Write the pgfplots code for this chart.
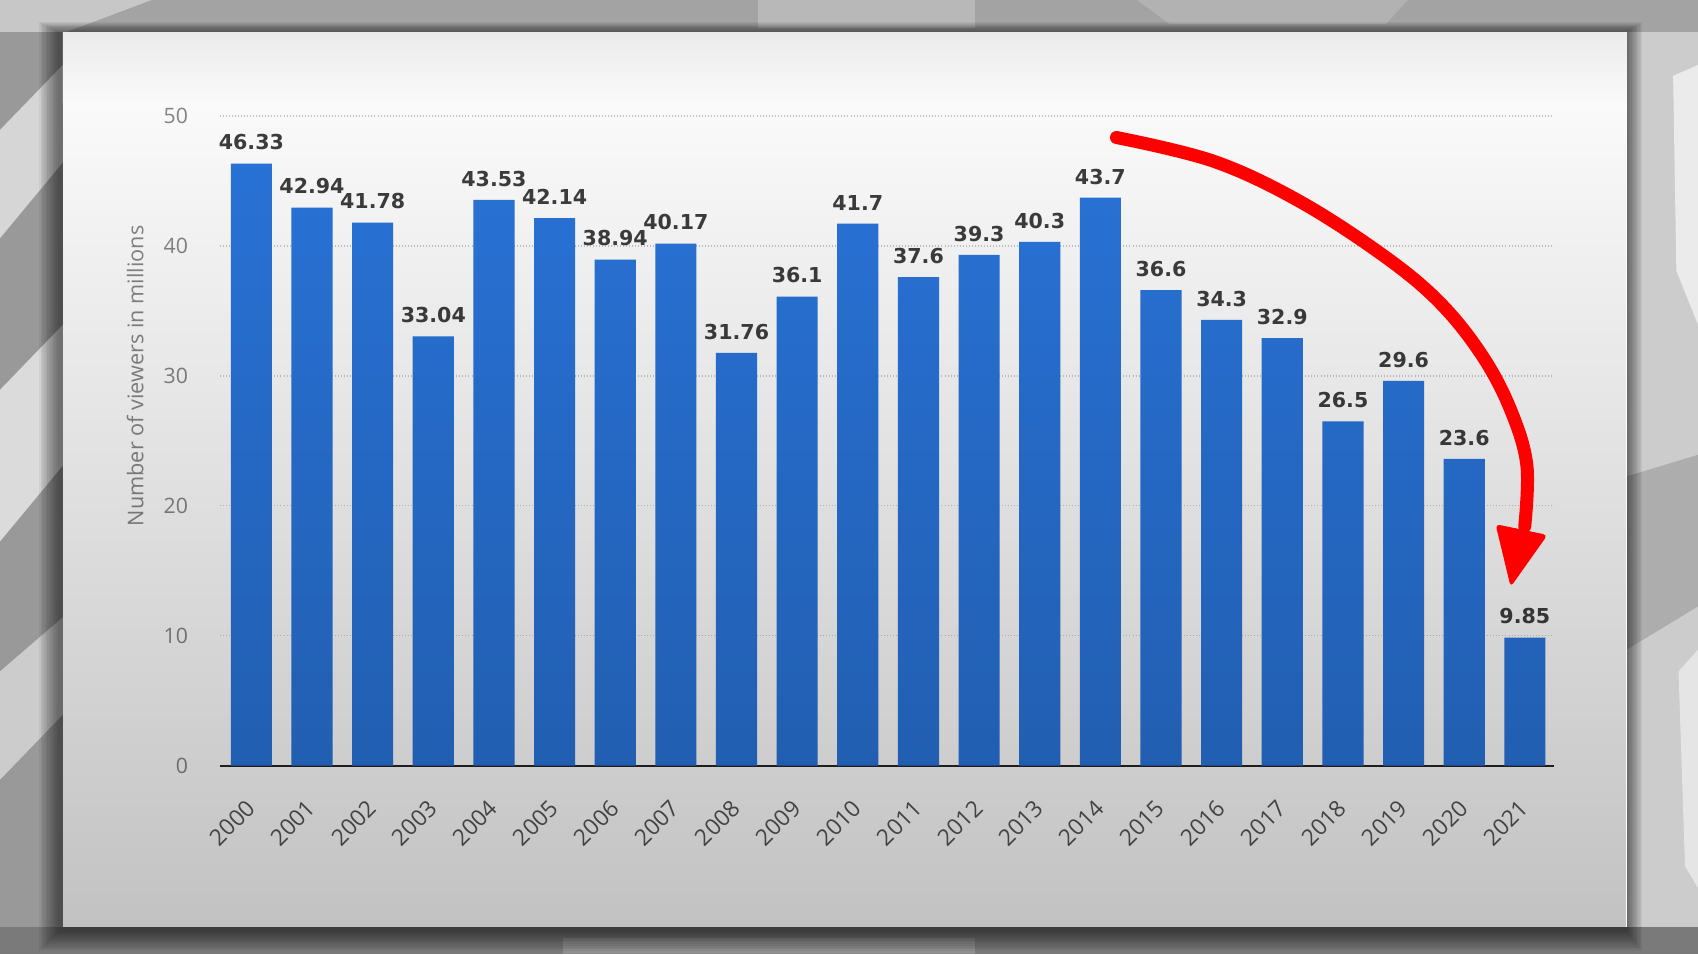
\documentclass[border=0pt]{standalone}
\usepackage{fontspec}
\setmainfont{Open Sans}
\newfontfamily\valfont{DejaVu Sans}
\usepackage{pgfplots}
\pgfplotsset{compat=1.18}
\usepackage{pgfplotstable}
\usetikzlibrary{fadings}

\definecolor{barblue}{RGB}{42,118,221}
\definecolor{tickgray}{RGB}{135,135,135}
\definecolor{yeargray}{RGB}{85,85,85}
\definecolor{valgray}{RGB}{62,62,62}
\definecolor{gridgray}{RGB}{200,200,200}
\definecolor{bggray}{RGB}{158,158,158}
\definecolor{arrowred}{RGB}{255,0,0}

\tikzfading[name=darkbottom, top color=transparent!100, middle color=transparent!80, bottom color=transparent!0]

\pgfplotstableread{
x year val label
0 2000 46.33 46.33
1 2001 42.94 42.94
2 2002 41.78 41.78
3 2003 33.04 33.04
4 2004 43.53 43.53
5 2005 42.14 42.14
6 2006 38.94 38.94
7 2007 40.17 40.17
8 2008 31.76 31.76
9 2009 36.1 36.1
10 2010 41.7 41.7
11 2011 37.6 37.6
12 2012 39.3 39.3
13 2013 40.3 40.3
14 2014 43.7 43.7
15 2015 36.6 36.6
16 2016 34.3 34.3
17 2017 32.9 32.9
18 2018 26.5 26.5
19 2019 29.6 29.6
20 2020 23.6 23.6
21 2021 9.85 9.85
}\datatable

\begin{document}
\begin{tikzpicture}
\useasboundingbox (0pt,0pt) rectangle (784pt,-440.5pt);
\begin{scope}[x=0.5pt,y=-0.5pt]
  % background (blurred video backdrop)
  \fill[bggray] (0,0) rectangle (1568,881);
  \fill[black!36] (0,0) rectangle (1568,30);
  \fill[black!22] (0,0) -- (140,0) -- (60,30) -- (0,60) -- cycle;
  \fill[black!28] (700,0) rectangle (900,26);
  \fill[black!30] (1050,0) -- (1300,0) -- (1280,22) -- (1080,22) -- cycle;
  % left strip
  \fill[black!40] (0,30) rectangle (58,856);
  \fill[black!16] (0,120) -- (58,60) -- (58,150) -- (0,220) -- cycle;
  \fill[black!14] (0,360) -- (58,300) -- (58,430) -- (0,500) -- cycle;
  \fill[black!20] (0,620) -- (58,570) -- (58,660) -- (0,720) -- cycle;
  % right strip
  \fill[black!20] (1502,30) rectangle (1568,856);
  \fill[black!8] (1545,70) -- (1568,60) -- (1568,300) -- (1548,250) -- cycle;
  \fill[black!32] (1502,440) -- (1568,420) -- (1568,560) -- (1502,600) -- cycle;
  \fill[black!10] (1550,620) -- (1568,600) -- (1568,820) -- (1556,800) -- cycle;
  % bottom strip
  \fill[black!52] (0,856) rectangle (1568,881);
  \fill[black!44] (520,866) rectangle (900,881);
  % shadow
  \foreach \i in {1,...,12} {
    \fill[black,opacity=0.05] (58-\i*1.6-3,30-\i*0.8) rectangle (1502+\i*1.2,856+\i*1.6+3);
  }
  % panel
  \fill[white] (58,30) rectangle (1502,856);
  \shade[top color=black!8, bottom color=white] (58,30) rectangle (1502,95);
\end{scope}

\begin{axis}[
  at={(101.5pt,-353.5pt)}, anchor=south west,
  scale only axis, width=616pt, height=300pt,
  ymin=0, ymax=50, xmin=-0.52, xmax=21.48,
  ytick={0,10,...,50},
  xtick={0,...,21},
  xticklabels from table={\datatable}{year},
  /pgf/number format/assume math mode=true,
  axis x line*=bottom, axis y line*=left,
  y axis line style={draw=none},
  x axis line style={draw=black!85, line width=1pt},
  major tick length=0pt,
  ymajorgrids,
  grid style={densely dotted, color=gridgray, line width=0.7pt},
  yticklabel style={font=\fontsize{9.8}{11}\selectfont, text=tickgray, inner sep=0pt, xshift=-14.5pt},
  xticklabel style={xshift=-3pt, yshift=-15pt, rotate=45, anchor=north east, inner sep=0pt,
                    font=\fontsize{10.5}{12}\selectfont, text=yeargray},
  ylabel={Number of viewers in millions},
  ylabel style={at={(axis description cs:-0.0568,0.6)}, anchor=south, inner sep=0pt,
                font=\fontsize{10}{11}\selectfont, text=tickgray},
  ybar, bar width=19pt,
  nodes near coords,
  point meta=explicit symbolic,
  nodes near coords style={font=\valfont\bfseries\fontsize{9.5}{11}\selectfont, text=valgray, inner sep=0pt, yshift=6pt},
  clip=false,
]
\addplot[fill=barblue, draw=none] table[x=x, y=val, meta=label] {\datatable};
\end{axis}

\begin{scope}[x=0.5pt,y=-0.5pt]
  % video darkening toward bottom
  \fill[black, fill opacity=0.24, path fading=darkbottom] (58,30) rectangle (1502,856);
  % red annotation arrow
  \draw[arrowred, line width=6pt, line cap=round, line join=round]
    plot[smooth, tension=0.6] coordinates {(1031,127) (1121,149) (1202,187) (1283,240) (1333,283) (1371,332) (1396,381) (1410,430) (1408,486)};
  \fill[arrowred, rounded corners=2pt] (1381,484) -- (1429,494) -- (1395,542) -- cycle;
\end{scope}
\end{tikzpicture}
\end{document}
